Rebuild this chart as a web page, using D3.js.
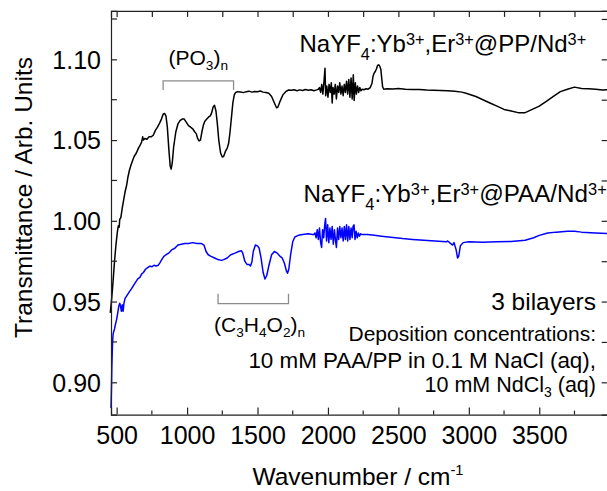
<!DOCTYPE html>
<html>
<head>
<meta charset="utf-8">
<script src="https://cdn.jsdelivr.net/npm/d3@7"></script>
<style>
  html, body { margin: 0; padding: 0; background: #fff; }
  svg { display: block; }
  text { font-family: "Liberation Sans", Arial, sans-serif; fill: #000; }
</style>
</head>
<body>
<svg id="chart" width="607" height="491"></svg>
<script>
// ---------- data ----------
const xMajorTicks = [500, 1000, 1500, 2000, 2500, 3000, 3500];
const xMinorTicks = [750, 1250, 1750, 2250, 2750, 3250, 3750];
const yMajorTicks = [0.90, 0.95, 1.00, 1.05, 1.10];
const yMinorTicks = [0.925, 0.975, 1.025, 1.075, 1.125];
const yTickLabels = ["0.90", "0.95", "1.00", "1.05", "1.10"];

// NaYF4:Yb,Er@PP/Nd (black)
const ppSeries = [
  [455,0.943],[465,0.952],[475,0.963],[485,0.975],[495,0.985],[505,0.993],[512,0.997],[518,0.996],
  [522,1.001],[530,1.002],[540,1.008],[550,1.013],[560,1.018],[571,1.022],[580,1.027],[590,1.031],
  [600,1.034],[612,1.037],[625,1.040],[640,1.042],[655,1.045],[668,1.047],[678,1.049],[685,1.052],
  [690,1.050],[700,1.051],[715,1.0505],[730,1.052],[745,1.052],[760,1.053],[775,1.056],[790,1.058],
  [805,1.0605],[818,1.063],[830,1.066],[840,1.0665],[850,1.065],[860,1.058],[870,1.045],[880,1.034],
  [887,1.032],[895,1.036],[905,1.046],[920,1.055],[935,1.060],[950,1.062],[965,1.063],[980,1.063],
  [995,1.061],[1010,1.059],[1025,1.058],[1040,1.057],[1055,1.055],[1065,1.054],[1075,1.051],[1085,1.0495],
  [1095,1.050],[1105,1.055],[1115,1.059],[1125,1.0615],[1140,1.063],[1155,1.0645],[1165,1.065],[1175,1.067],
  [1185,1.0705],[1195,1.0715],[1205,1.068],[1215,1.060],[1225,1.050],[1238,1.042],[1250,1.0395],[1260,1.040],
  [1272,1.043],[1285,1.045],[1295,1.048],[1305,1.055],[1315,1.064],[1325,1.073],[1335,1.078],[1345,1.0795],
  [1360,1.080],[1380,1.0798],[1400,1.0794],[1420,1.0800],[1440,1.0803],[1460,1.0797],[1480,1.0801],[1500,1.0799],
  [1520,1.0804],[1540,1.0797],[1560,1.0795],[1580,1.079],[1600,1.077],[1620,1.073],[1635,1.0700],[1645,1.0705],
  [1660,1.074],[1680,1.078],[1700,1.080],[1720,1.081],[1740,1.0808],[1760,1.0812],[1780,1.0806],[1800,1.0811],
  [1820,1.0807],[1840,1.0813],[1860,1.0809],[1880,1.0812],[1900,1.0806],[1920,1.0811],[1932,1.0815],
  [1940,1.0825],[1948,1.0795],[1956,1.0845],[1964,1.0785],[1972,1.0865],[1979,1.0945],[1984,1.0775],[1992,1.0835],
  [2000,1.0765],[2008,1.0845],[2016,1.0795],[2024,1.0855],[2030,1.0730],[2036,1.0825],[2044,1.0785],[2052,1.0845],
  [2060,1.0755],[2068,1.0835],[2076,1.0795],[2084,1.0855],[2092,1.0785],[2100,1.0835],[2108,1.0775],[2116,1.0845],
  [2124,1.0795],[2132,1.0865],[2140,1.0785],[2148,1.0875],[2156,1.0765],[2164,1.0885],[2172,1.0755],[2180,1.0905],
  [2186,1.0745],[2194,1.0855],[2202,1.0785],[2210,1.0835],[2218,1.0795],[2226,1.0825],[2234,1.0805],[2242,1.0815],
  [2255,1.0812],[2270,1.0818],[2285,1.0815],[2300,1.0825],[2312,1.085],[2320,1.0895],[2328,1.0915],[2336,1.0925],
  [2344,1.094],[2352,1.0962],[2360,1.0966],[2368,1.0958],[2376,1.0935],[2382,1.088],[2388,1.083],[2396,1.0815],
  [2420,1.0818],[2460,1.0816],[2500,1.0819],[2550,1.0815],[2600,1.0813],[2650,1.0814],[2700,1.0810],[2750,1.0809],
  [2800,1.0807],[2850,1.0805],[2900,1.0802],[2950,1.0797],[2980,1.079],[3050,1.077],[3100,1.075],[3150,1.073],
  [3200,1.071],[3250,1.069],[3300,1.068],[3350,1.067],[3400,1.067],[3450,1.069],[3500,1.071],[3550,1.074],
  [3600,1.077],[3650,1.080],[3700,1.0815],[3750,1.0828],[3800,1.082],[3850,1.0818],[3900,1.0815],[3950,1.081],
  [3995,1.0812]
];

// NaYF4:Yb,Er@PAA/Nd (blue)
const paaSeries = [
  [460,0.884],[463,0.895],[466,0.910],[470,0.922],[474,0.929],[478,0.931],[485,0.933],[492,0.936],
  [500,0.939],[508,0.943],[515,0.947],[522,0.949],[528,0.947],[534,0.944],[540,0.948],[546,0.944],
  [552,0.949],[560,0.952],[575,0.954],[590,0.956],[606,0.958],[620,0.960],[635,0.962],[650,0.964],
  [665,0.965],[677,0.967],[690,0.968],[705,0.970],[720,0.971],[736,0.972],[750,0.9715],[765,0.9725],
  [780,0.972],[795,0.9725],[807,0.974],[820,0.976],[835,0.978],[850,0.979],[870,0.980],[890,0.982],
  [913,0.983],[935,0.985],[960,0.9855],[984,0.986],[1010,0.986],[1040,0.9865],[1070,0.986],[1100,0.986],
  [1120,0.985],[1135,0.981],[1150,0.979],[1170,0.978],[1195,0.977],[1220,0.976],[1245,0.9755],[1260,0.976],
  [1285,0.977],[1310,0.979],[1340,0.980],[1365,0.981],[1385,0.9815],[1395,0.980],[1410,0.975],[1425,0.973],
  [1440,0.973],[1450,0.972],[1460,0.9745],[1470,0.981],[1485,0.985],[1500,0.9845],[1512,0.983],[1525,0.977],
  [1540,0.968],[1553,0.964],[1565,0.966],[1580,0.972],[1600,0.979],[1620,0.981],[1640,0.980],[1660,0.978],
  [1675,0.977],[1690,0.974],[1705,0.969],[1713,0.9675],[1722,0.970],[1735,0.979],[1750,0.987],[1765,0.990],
  [1790,0.991],[1820,0.9915],[1860,0.992],[1890,0.9915],
  [1900,0.9915],[1908,0.9925],[1916,0.9895],[1924,0.9945],[1932,0.9885],[1940,0.9955],[1948,0.9865],[1955,0.9835],
  [1962,0.9945],[1970,0.9895],[1976,0.9965],[1983,1.0015],[1990,0.9875],[1998,0.9975],[2006,0.9865],[2014,0.9955],
  [2022,0.9885],[2030,0.9965],[2038,0.9855],[2046,0.9945],[2054,0.9875],[2060,0.9835],[2068,0.9955],[2076,0.9885],
  [2084,0.9965],[2092,0.9895],[2100,0.9955],[2108,0.9875],[2116,0.9965],[2124,0.9885],[2132,0.9975],[2140,0.9875],
  [2148,0.9965],[2156,0.9885],[2164,0.9955],[2172,0.9895],[2178,0.9965],[2185,0.9975],[2192,0.9885],[2200,0.9935],
  [2208,0.9895],[2216,0.9925],[2224,0.9905],[2232,0.9920],[2240,0.9915],
  [2250,0.9915],[2280,0.9915],[2330,0.9910],[2380,0.9905],[2430,0.9900],[2480,0.9895],
  [2530,0.9890],[2600,0.9885],[2680,0.9880],[2760,0.9875],[2840,0.9870],[2850,0.9875],[2870,0.986],[2885,0.985],
  [2895,0.9865],[2910,0.982],[2920,0.977],[2928,0.978],[2940,0.9845],[2960,0.9865],[3000,0.987],[3100,0.9868],
  [3200,0.987],[3300,0.9872],[3400,0.988],[3460,0.9895],[3500,0.991],[3560,0.9925],[3620,0.993],[3700,0.9935],
  [3750,0.9935],[3800,0.993],[3900,0.9925],[3995,0.992]
];

const xTitle = [{t:"Wavenumber / cm"},{t:"-1", sup:true}];
const yTitle = "Transmittance / Arb. Units";
const ppLabel = [{t:"NaYF"},{t:"4",sub:true},{t:":Yb"},{t:"3+",sup:true},{t:",Er"},{t:"3+",sup:true},{t:"@PP/Nd"},{t:"3+",sup:true}];
const paaLabel = [{t:"NaYF"},{t:"4",sub:true},{t:":Yb"},{t:"3+",sup:true},{t:",Er"},{t:"3+",sup:true},{t:"@PAA/Nd"},{t:"3+",sup:true}];
const po3Label = [{t:"(PO"},{t:"3",sub:true},{t:")"},{t:"n",sub:true}];
const paaUnitLabel = [{t:"(C"},{t:"3",sub:true},{t:"H"},{t:"4",sub:true},{t:"O"},{t:"2",sub:true},{t:")"},{t:"n",sub:true}];
const po3Range = [830, 1330];
const paaRange = [1220, 1720];
const noteLines = [
  [{t:"3 bilayers"}],
  [{t:"Deposition concentrations:"}],
  [{t:"10 mM PAA/PP in 0.1 M NaCl (aq),"}],
  [{t:"10 mM NdCl"},{t:"3",sub:true},{t:" (aq)"}]
];

// ---------- layout ----------
const svg = d3.select("#chart");
const x = d3.scaleLinear().domain([460, 4000]).range([111, 609.7]);
const y = d3.scaleLinear().domain([0.88, 1.13]).range([414.6, 10.9]);
const [x0, x1] = x.range();
const [yb, yt] = y.range();

// rich text: sub/superscripts via tspans, shift carried to next tspan
function rich(sel, segs, size, opt) {
  const o = Object.assign({ratio: 0.68, up: 0.3, down: 0.3}, opt || {});
  let pending = 0;
  segs.forEach(s => {
    const ts = sel.append("tspan").text(s.t);
    let dy = pending;
    if (s.sup) { ts.attr("font-size", size * o.ratio); dy -= size * o.up; pending = size * o.up; }
    else if (s.sub) { ts.attr("font-size", size * o.ratio); dy += size * o.down; pending = -size * o.down; }
    else pending = 0;
    if (dy) ts.attr("dy", dy);
  });
  return sel;
}

// curves
const line = d3.line().x(d => x(d[0])).y(d => y(d[1]));
svg.append("path").datum(ppSeries).attr("d", line)
  .attr("fill", "none").attr("stroke", "#000").attr("stroke-width", 1.5).attr("stroke-linejoin", "round");
svg.append("path").datum(paaSeries).attr("d", line)
  .attr("fill", "none").attr("stroke", "#0000ff").attr("stroke-width", 1.5).attr("stroke-linejoin", "round");

// axes
const axisColor = "#222";
const gBottom = svg.append("g").attr("transform", `translate(0,${yb})`)
  .call(d3.axisBottom(x).tickValues(xMajorTicks).tickSize(-7).tickPadding(12).tickFormat(d3.format("d")));
gBottom.append("g").selectAll("line").data(xMinorTicks).join("line")
  .attr("x1", d => x(d)).attr("x2", d => x(d)).attr("y1", 0).attr("y2", -4);
const gTop = svg.append("g").attr("transform", `translate(0,${yt})`)
  .call(d3.axisTop(x).tickValues(xMajorTicks.concat(xMinorTicks)).tickSize(-6).tickFormat(""));
const gLeft = svg.append("g").attr("transform", `translate(${x0},0)`)
  .call(d3.axisLeft(y).tickValues(yMajorTicks).tickSize(-6).tickPadding(10)
    .tickFormat((d, i) => yTickLabels[i]));
gLeft.append("g").selectAll("line").data(yMinorTicks).join("line")
  .attr("x1", 0).attr("x2", 6).attr("y1", d => y(d)).attr("y2", d => y(d));
const gRight = svg.append("g").attr("transform", `translate(${x1},0)`)
  .call(d3.axisRight(y).tickValues(yMajorTicks.concat(yMinorTicks)).tickSize(-8).tickFormat(""));

[gBottom, gTop, gLeft, gRight].forEach(g => {
  g.selectAll("path.domain").attr("stroke", axisColor).attr("stroke-width", 1.2);
  g.selectAll("line").attr("stroke", axisColor).attr("stroke-width", 1.2);
  g.selectAll("text").attr("font-size", 25).attr("fill", "#000")
    .style("font-family", '"Liberation Sans", Arial, sans-serif');
});
gLeft.selectAll(".tick text").attr("dy", "0.35em");
gBottom.selectAll(".tick text").attr("dy", "0.71em");

// axis titles
rich(svg.append("text").attr("x", 358).attr("y", 485).attr("text-anchor", "middle").attr("font-size", 24.5),
  xTitle, 24.5, {ratio: 0.6, up: 0.4});
svg.append("text").attr("transform", "translate(31.5,197.5) rotate(-90)")
  .attr("text-anchor", "middle").attr("font-size", 24.5).text(yTitle);

// series labels
rich(svg.append("text").attr("x", 299.5).attr("y", 52).attr("font-size", 24), ppLabel, 24, {ratio: 0.68, up: 0.3, down: 0.32});
rich(svg.append("text").attr("x", 303.5).attr("y", 202).attr("font-size", 24.2), paaLabel, 24.2, {ratio: 0.68, up: 0.3, down: 0.32});

// group brackets
const bracketColor = "#8c8c8c";
function bracket(range, yLine, yEnd) {
  const p = d3.path();
  p.moveTo(x(range[0]), y(yEnd)); p.lineTo(x(range[0]), y(yLine));
  p.lineTo(x(range[1]), y(yLine)); p.lineTo(x(range[1]), y(yEnd));
  svg.append("path").attr("d", p.toString()).attr("fill", "none")
    .attr("stroke", bracketColor).attr("stroke-width", 1.3);
}
bracket(po3Range, 1.0867, 1.0810);
bracket(paaRange, 0.9487, 0.9548);
rich(svg.append("text").attr("x", 168.5).attr("y", 65).attr("font-size", 21), po3Label, 21, {ratio: 0.65, down: 0.25});
rich(svg.append("text").attr("x", 214).attr("y", 331.5).attr("font-size", 21), paaUnitLabel, 21, {ratio: 0.65, down: 0.25});

// notes
const noteY = [309.5, 341, 367.5, 392];
const noteSize = [24.5, 21, 22.4, 21.5];
noteLines.forEach((segs, i) => {
  rich(svg.append("text").attr("x", 596).attr("y", noteY[i]).attr("text-anchor", "end")
    .attr("font-size", noteSize[i]), segs, noteSize[i], {ratio: 0.65, down: 0.22});
});
</script>
</body>
</html>
